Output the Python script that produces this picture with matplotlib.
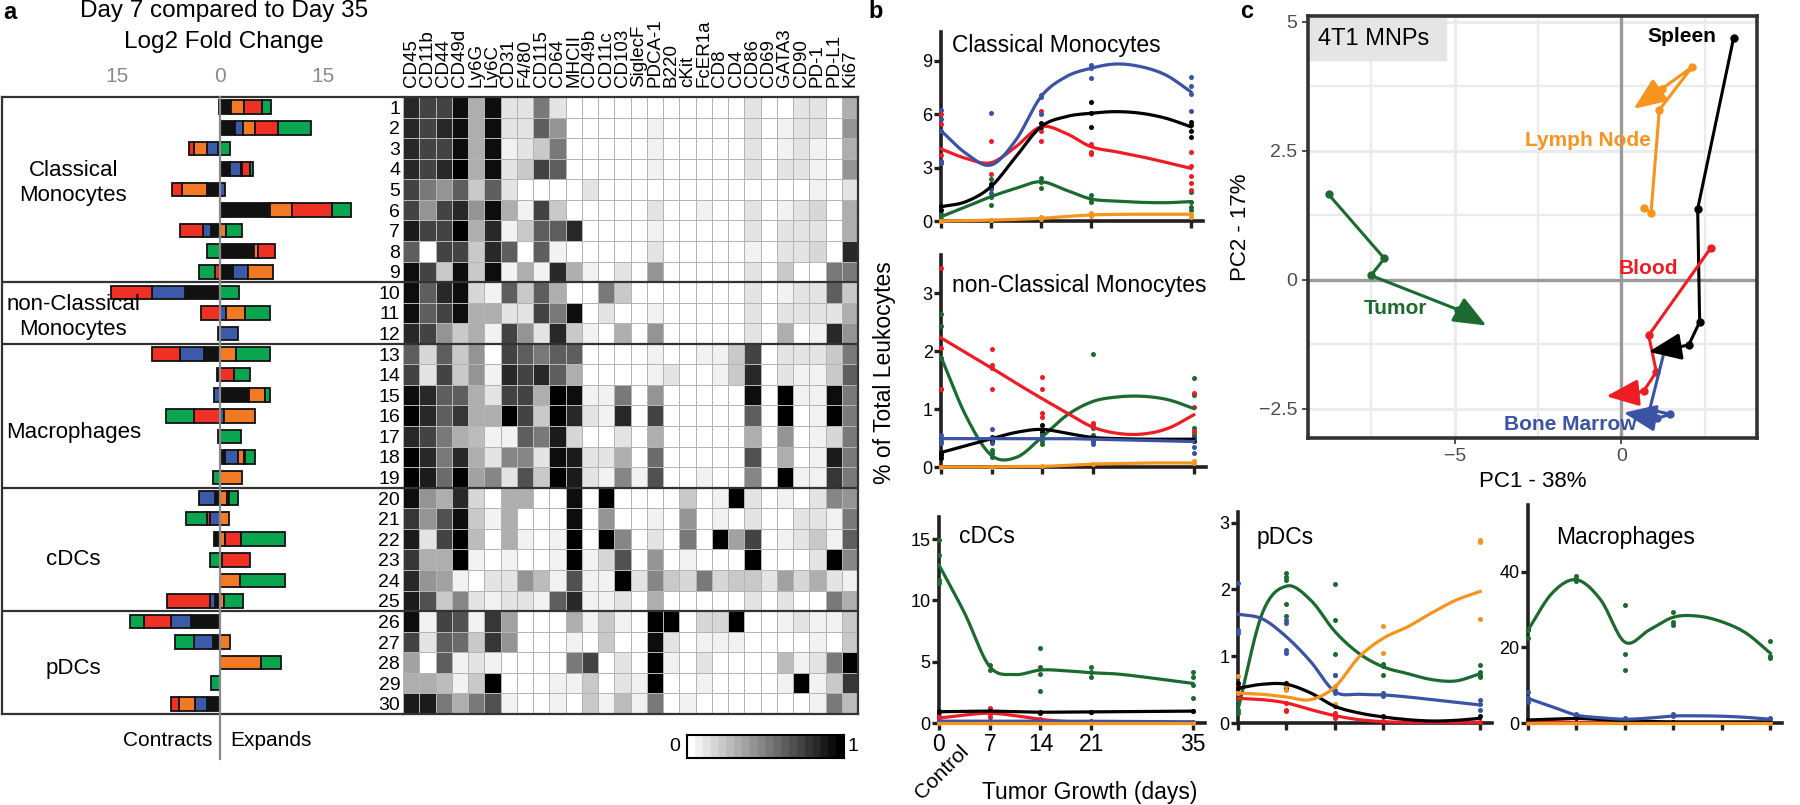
import numpy as np
import matplotlib
matplotlib.use('Agg')
import matplotlib.pyplot as plt
from matplotlib.colors import ListedColormap
from matplotlib.lines import Line2D
from matplotlib.patches import Rectangle

plt.rcParams['font.family'] = ['Liberation Sans', 'DejaVu Sans']

W, H = 1800, 805

# ---------------- panel a data ----------------
row_ids = list(range(1, 31))
group_names = ['Classical\nMonocytes', 'non-Classical\nMonocytes', 'Macrophages', 'cDCs', 'pDCs']
group_rows = [4.7, 11.2, 16.8, 23.0, 28.3]
group_breaks = [9.5, 12.5, 19.5, 25.5]
tissues = ['Spleen', 'Bone Marrow', 'Lymph Node', 'Blood', 'Tumor']

fc_spleen = [1.6, 2.2, -0.25, 1.5, -1.94, 6.9, -1.35, 4.9, 1.85, -5.1, 0, -0.25, -2.3, -0.4, 4.2,
             0, -0.25, 0.75, 0, -0.7, 0, -0.8, 0, 0, -0.7, -4.2, -0.95, 0, 0, -1.85]
fc_marrow = [-0.2, 1.1, -1.6, 1.55, 0.7, 0.35, -1.15, 0, 2.2, -4.7, 0.8, 2.6, -3.5, 0, -0.9,
             0.55, 0, 1.85, 0, -2.4, -1.45, 0, 0, 0, -0.7, -2.95, -2.8, 0, 0, -1.8]
fc_lymph = [1.84, 1.84, -1.94, 0.15, -3.6, 3.15, 0.9, 0.6, 3.7, 0, 2.9, 0, 2.3, 0, 2.4,
            4.5, 0, 0.85, 3.2, 1.0, 1.35, 0.75, 0.3, 2.9, 0.65, 0, 1.4, 6.0, 0, -2.3]
fc_blood = [2.66, 3.24, -0.73, 1.15, -1.45, 5.8, -3.3, 2.5, -0.7, -5.95, -2.8, 0, -4.0, 2.1, 0,
            -3.8, 0, 0.2, 0, 0.3, -0.4, 2.3, 4.0, 0, -6.3, -3.9, 0, 0, 0, -1.15]
fc_tumor = [1.3, 4.84, 1.45, 0.5, 0, 2.8, 2.3, -1.84, -2.3, 2.8, 3.5, 0, 4.9, 2.3, 0.65,
            -4.1, 3.0, 1.45, -1.05, 1.35, -3.1, 6.4, -1.45, 6.6, 2.65, -2.0, -2.75, 2.9, -1.35, 0]

markers = ['CD45', 'CD11b', 'CD44', 'CD49d', 'Ly6G', 'Ly6C', 'CD31', 'F4/80', 'CD115', 'CD64',
           'MHCII', 'CD49b', 'CD11c', 'CD103', 'SiglecF', 'PDCA-1', 'B220', 'cKit', 'FcER1a',
           'CD8', 'CD4', 'CD86', 'CD69', 'GATA3', 'CD90', 'PD-1', 'PD-L1', 'Ki67']

# scaled expression, 0 (white) .. 10 (black)
expression = [
    [8, 7, 7, 9, 3, 9, 1, 1, 5, 1, 0, 0, 0, 0, 0, 0, 0, 0, 0, 0, 0, 1, 0, 0, 1, 1, 0, 3],
    [8, 7, 8, 9, 3, 9, 1, 1, 6, 4, 0, 0, 0, 0, 0, 0.5, 0, 0, 0, 0, 0, 1, 0, 0.5, 1, 1, 0, 4],
    [8, 7, 7, 9, 3, 9, 0.5, 1, 2, 5, 0, 0, 0, 0, 0, 0.5, 0, 0, 0, 0, 0, 1, 0, 0.5, 1, 0.5, 0, 3],
    [8, 7, 8, 9.5, 3, 9, 1, 2, 7, 6, 0, 0, 0, 0, 0, 0.5, 0, 0, 0, 0, 0, 1, 0, 1, 1, 0.5, 0, 4],
    [7, 5, 4, 6, 2, 6, 1, 0, 0, 0, 0, 1, 0, 0, 0, 0, 0, 0, 0, 0, 0, 0, 0, 0, 0, 0.5, 0, 1],
    [7, 4, 7, 8, 4, 9, 3, 0.5, 7, 2, 0, 0, 0, 0, 0, 1, 0, 0, 0.5, 0, 0, 1, 0, 0.5, 1, 1.5, 0, 3],
    [8.5, 7, 7, 9.5, 3, 8, 0.5, 2, 6, 6, 8, 0, 0, 0, 0, 0.5, 0, 0, 0, 0, 0, 1, 0, 1, 1, 1, 0, 3],
    [6, 0, 7, 7, 2, 8, 6, 0, 6, 0.5, 0, 0, 0, 0, 0, 1, 0, 0, 0, 0, 0, 0.5, 0, 1, 1, 1.5, 0, 8],
    [9, 7, 2, 9, 2, 9, 0.5, 3, 0.5, 8, 3, 0.5, 0, 1, 0, 4, 0, 0, 0, 0, 0, 1, 0, 2, 0, 0, 5, 5],
    [9, 6, 8, 9, 1.5, 0.5, 6, 2, 6, 3, 0, 0, 5, 2, 0, 0, 0, 0, 0, 0, 0, 1, 0, 0.5, 1, 1, 6, 2],
    [9, 6, 7, 9, 3, 3, 1, 1, 7, 5, 9, 0, 1, 0, 0, 0.5, 0, 0, 0, 0, 0, 1, 0, 1, 1, 1, 1, 3],
    [8, 7, 4, 2, 3, 0.5, 7, 4, 1, 8, 2, 0.5, 0, 3, 0, 4, 0, 0, 0, 0, 0, 1, 0, 3, 0, 0.5, 8, 4],
    [6, 1.5, 6, 2, 4, 0, 7, 6, 5, 6, 6, 0, 0, 0, 0, 0.5, 0, 0, 0.5, 0.5, 2, 7, 0, 1, 1, 1, 2, 5],
    [7, 1, 7, 2, 4, 0.5, 8, 7, 8, 6, 3, 0, 0, 0, 0, 0.5, 1, 0, 0, 0.5, 2, 8, 0, 1, 0.5, 0.5, 2, 6],
    [9, 8, 6, 6, 3, 1, 7, 7, 3, 10, 9, 0.5, 0.5, 5, 0, 4, 0, 0, 0, 0, 0, 9, 0, 10, 0.5, 0.5, 9, 5],
    [9.5, 8, 6, 7.5, 3, 3, 10, 7, 2, 10, 8, 1, 0.5, 8, 0, 7, 0, 0, 0, 0, 0, 6, 0, 10, 0, 0.5, 10, 5],
    [8, 7, 5, 3, 2.5, 0.5, 0.5, 6, 5, 8.5, 1.5, 0, 0, 1, 0, 3, 0, 0, 0, 0, 0, 3, 0, 4, 0, 0.5, 1.5, 5],
    [9.5, 8, 5, 8, 3, 1, 4.5, 4.5, 1, 9, 8.5, 1, 1, 3, 0, 5.5, 0, 0, 0, 0, 0, 6.5, 0, 3, 0, 0.5, 8.5, 5],
    [9.5, 8.5, 5.5, 9.5, 3.5, 4.5, 1, 6.5, 2, 10, 8.5, 1, 0.5, 4.5, 0.5, 6.5, 0, 0, 0.5, 0, 0, 4.5, 0, 10, 0.5, 0.5, 7.5, 5],
    [9, 4, 3, 8, 1.5, 0, 3, 3, 0, 0, 9, 0, 9.5, 0, 0, 0, 0, 2, 0, 0.5, 9.5, 1, 0, 0.5, 0, 1, 4.5, 4],
    [7.5, 4, 6.5, 9, 2, 0.5, 3, 0, 0, 0, 9, 0, 4, 0, 0, 0.5, 0, 4, 0, 0.5, 0, 1, 0, 0, 1, 1, 0.5, 5],
    [8.5, 1, 7, 10, 2.5, 0, 3, 0.5, 0, 0.5, 10, 0, 10, 4.5, 0, 1, 0, 5, 0, 10, 3.5, 7, 0, 0.5, 1, 2, 0.5, 6],
    [7.5, 3, 3, 9.5, 0.5, 0, 0.5, 0, 0, 0.5, 9.5, 0.5, 1.5, 6.5, 0, 4, 0, 0.5, 0, 0, 0, 10, 0, 0, 0, 1, 9.5, 4.5],
    [8, 4, 3.5, 0.5, 0, 1, 1, 4, 2.5, 0.5, 6.5, 0.5, 0.5, 10, 1, 4.5, 2, 1.5, 5, 1.5, 2, 2, 1, 3.5, 1.5, 3, 1, 0.5],
    [8.5, 6.5, 2, 4.5, 1, 0.5, 1, 1, 0.5, 6, 8, 0.5, 0.5, 1, 0, 3, 0, 0, 0, 0, 0, 1, 0, 1, 0, 0, 5, 3],
    [9, 0.5, 7, 6.5, 0.5, 7.5, 3.5, 0, 0, 0, 3, 0.5, 2, 0.5, 0, 9.5, 10, 0, 1.5, 1.5, 10, 0, 0, 0.5, 1, 0.5, 0.5, 2],
    [7, 1, 6, 5.5, 2, 7.5, 4, 0, 0, 0, 0.5, 0, 2, 0, 0, 9, 1, 0, 0.5, 0.5, 0.5, 0, 0, 0, 0, 0.5, 0, 2],
    [3.5, 0, 6, 0.5, 1, 0.5, 0, 0, 0, 0, 5, 7, 0, 1, 0, 9.5, 0.5, 0, 1, 0, 0, 0, 0, 2.5, 0.5, 1, 5, 10],
    [3, 3, 2.5, 0.5, 2, 10, 0, 0, 0, 0.5, 0.5, 2, 0, 1, 0.5, 10, 0, 0, 0.5, 0, 0, 0, 0, 0.5, 10, 0.5, 2, 7.5],
    [8.5, 8.5, 5, 3, 5, 6.5, 0.5, 0, 0, 0.5, 0, 2, 0.5, 2.5, 0.5, 5, 0, 0.5, 0, 0, 0, 0, 0, 0, 0, 0.5, 5, 2.5],
]

# ---------------- panel b data ----------------
sample_days = [0, 7, 14, 21, 35]
curve_days = [0, 3.5, 7, 10.5, 14, 17.5, 21, 24.5, 28, 31.5, 35]

cm_curves = {
    'Tumor': [0.24, 0.80, 1.37, 1.84, 2.21, 1.74, 1.24, 1.12, 1.05, 1.03, 1.09],
    'Blood': [4.05, 3.52, 3.28, 4.18, 5.30, 4.93, 4.18, 3.90, 3.62, 3.30, 2.96],
    'Spleen': [0.80, 1.09, 1.93, 3.62, 5.30, 5.87, 6.06, 6.15, 6.06, 5.78, 5.30],
    'Bone Marrow': [5.08, 3.80, 3.15, 4.56, 6.99, 8.11, 8.59, 8.83, 8.68, 8.21, 7.27],
    'Lymph Node': [0.0, 0.02, 0.05, 0.09, 0.15, 0.25, 0.34, 0.37, 0.38, 0.38, 0.38],
}
cm_dots = {
    'Tumor': [[0.4, 0.13], [2.38, 2.0, 1.37, 0.9], [2.43, 2.19, 1.87], [1.46, 1.24, 1.09], [1.61, 1.05, 0.8, 0.6]],
    'Blood': [[5.99, 5.44, 3.71, 3.24], [4.48, 3.28, 2.66], [6.19, 5.07, 4.51], [4.33, 3.86, 3.77], [3.86, 3.07, 2.51, 2.14, 1.76]],
    'Spleen': [[0.87, 0.6], [1.93, 2.1], [5.3, 5.5], [6.71, 6.06, 5.3], [5.58, 5.39, 5.06, 4.74]],
    'Bone Marrow': [[6.25, 5.72, 5.08, 3.37, 3.28], [6.1, 3.28, 1.78, 1.6], [7.07, 6.98, 5.99], [8.77, 8.6, 8.02], [8.12, 7.59, 7.12, 6.19]],
    'Lymph Node': [[0.0, 0.02], [0.05, 0.08], [0.1, 0.2], [0.3, 0.45], [0.25, 0.4]],
}

nc_curves = {
    'Tumor': [1.90, 0.87, 0.20, 0.17, 0.52, 0.90, 1.13, 1.21, 1.22, 1.16, 1.01],
    'Blood': [2.23, 1.97, 1.71, 1.44, 1.18, 0.93, 0.69, 0.58, 0.57, 0.67, 0.90],
    'Spleen': [0.25, 0.37, 0.49, 0.60, 0.65, 0.58, 0.51, 0.49, 0.48, 0.48, 0.48],
    'Bone Marrow': [0.49, 0.49, 0.49, 0.49, 0.49, 0.49, 0.48, 0.47, 0.46, 0.45, 0.44],
    'Lymph Node': [0.0, 0.0, 0.0, 0.01, 0.01, 0.03, 0.05, 0.06, 0.07, 0.07, 0.07],
}
nc_dots = {
    'Tumor': [[2.65, 2.43, 1.88, 1.34], [0.29, 0.24, 0.18], [0.65, 0.55, 0.45, 0.4], [1.95, 0.74, 0.67, 0.55], [1.53, 1.25, 0.68, 0.6, 0.55]],
    'Blood': [[3.44, 2.05, 1.34], [2.03, 1.76, 1.71, 1.34], [1.56, 1.34, 0.93, 0.87], [0.76, 0.69], [1.28, 1.04, 0.62]],
    'Spleen': [[0.25, 0.2, 0.15], [0.52, 0.45], [0.72, 0.6], [0.5, 0.45], [0.5, 0.45]],
    'Bone Marrow': [[0.55, 0.5, 0.45, 0.42], [0.66, 0.5, 0.42], [0.55, 0.5], [0.5, 0.45, 0.4], [0.5, 0.35, 0.25]],
    'Lymph Node': [[0.0], [0.0], [0.01], [0.05], [0.07, 0.1]],
}

cd_curves = {
    'Tumor': [12.88, 9.0, 4.6, 3.95, 4.32, 4.26, 4.10, 4.0, 3.77, 3.5, 3.23],
    'Blood': [0.4, 0.65, 0.8, 0.6, 0.3, 0.12, 0.05, 0.02, 0.01, 0.0, 0.0],
    'Spleen': [0.92, 0.95, 0.97, 0.92, 0.88, 0.89, 0.9, 0.92, 0.94, 0.96, 0.97],
    'Bone Marrow': [0.15, 0.15, 0.15, 0.15, 0.15, 0.15, 0.14, 0.13, 0.12, 0.11, 0.1],
    'Lymph Node': [0.02, 0.02, 0.02, 0.02, 0.02, 0.02, 0.02, 0.02, 0.02, 0.02, 0.02],
}
cd_dots = {
    'Tumor': [[14.9, 13.7, 11.65, 11.4], [4.7, 4.35], [6.14, 4.59, 4.0, 2.6], [4.59, 4.2, 3.78], [4.16, 3.78, 3.08, 2.0]],
    'Blood': [[0.6, 0.3], [1.2, 0.7, 0.5], [0.3], [0.05], [0.0]],
    'Spleen': [[1.0, 0.9], [1.0, 0.95], [0.9, 0.85], [0.9, 0.88], [1.0, 0.95]],
    'Bone Marrow': [[0.2, 0.1], [0.2, 0.15], [0.15], [0.15], [0.1]],
    'Lymph Node': [[0.0], [0.0], [0.0], [0.0], [0.0]],
}

pd_curves = {
    'Tumor': [0.2, 1.64, 2.05, 1.84, 1.37, 1.04, 0.84, 0.74, 0.65, 0.63, 0.74],
    'Blood': [0.37, 0.35, 0.30, 0.20, 0.11, 0.05, 0.02, 0.01, 0.01, 0.01, 0.01],
    'Spleen': [0.52, 0.58, 0.58, 0.45, 0.25, 0.15, 0.09, 0.05, 0.03, 0.04, 0.07],
    'Bone Marrow': [1.63, 1.56, 1.29, 0.92, 0.47, 0.43, 0.42, 0.39, 0.35, 0.31, 0.27],
    'Lymph Node': [0.45, 0.43, 0.39, 0.35, 0.54, 0.99, 1.27, 1.44, 1.65, 1.84, 1.97],
}
pd_dots = {
    'Tumor': [[0.45, 0.35, 0.2, 0.15], [2.24, 2.19, 2.14, 1.78, 1.6], [2.08, 1.55, 1.03, 0.72], [0.88, 0.85, 0.72], [0.87, 0.77, 0.72, 0.69]],
    'Blood': [[0.55, 0.45], [0.3, 0.2, 0.18], [0.15, 0.08], [0.03], [0.02]],
    'Spleen': [[0.6, 0.52], [0.6, 0.52], [0.25], [0.1], [0.1]],
    'Bone Marrow': [[2.1, 1.4, 1.35], [1.55, 1.5, 1.1, 1.05], [0.72, 0.5, 0.45], [0.45, 0.4], [0.35, 0.28, 0.2]],
    'Lymph Node': [[0.7, 0.45], [0.55, 0.5], [0.55, 0.28], [1.45, 1.05], [2.74, 2.71, 1.56]],
}

mac_curves = {
    'Tumor': [24.6, 34.4, 37.9, 32.6, 21.4, 24.6, 28.0, 28.3, 26.8, 23.8, 18.5],
    'Blood': [0.5, 0.3, 0.1, 0.05, 0.0, 0.0, 0.0, 0.0, 0.0, 0.0, 0.0],
    'Spleen': [0.8, 1.0, 1.2, 0.9, 0.6, 0.4, 0.3, 0.3, 0.3, 0.3, 0.3],
    'Bone Marrow': [6.5, 4.3, 2.1, 1.4, 1.0, 1.3, 1.85, 1.9, 1.8, 1.5, 1.0],
    'Lymph Node': [0.1, 0.1, 0.1, 0.1, 0.1, 0.1, 0.1, 0.1, 0.1, 0.1, 0.1],
}
mac_dots = {
    'Tumor': [[25, 24.5, 22.5], [39, 38, 37.5], [31.1, 18.3, 14.0], [29.4, 26.8, 26.0], [21.6, 17.7, 17.1]],
    'Blood': [[0.5], [0.1], [0.0], [0.0], [0.0]],
    'Spleen': [[0.8], [1.2], [0.6], [0.3], [0.3]],
    'Bone Marrow': [[8.3, 6.5, 5.6], [2.5, 1.8], [1.2], [2.4, 1.8], [1.2, 0.8]],
    'Lymph Node': [[0.1], [0.1], [0.1], [0.1], [0.1]],
}

# ---------------- panel c data ----------------
pca_x = {
    'Spleen': [3.37, 2.29, 2.35, 2.02, 1.67],
    'Lymph Node': [0.69, 0.89, 1.14, 2.12, 1.22],
    'Tumor': [-8.78, -7.11, -7.51, -4.91],
    'Blood': [2.69, 0.82, 1.05, 0.67, 0.42],
    'Bone Marrow': [1.32, 0.85, 1.47, 1.07],
}
pca_y = {
    'Spleen': [4.69, 1.37, -0.82, -1.27, -1.31],
    'Lymph Node': [1.38, 1.29, 3.29, 4.12, 3.70],
    'Tumor': [1.65, 0.41, 0.08, -0.58],
    'Blood': [0.62, -1.08, -1.79, -2.16, -2.20],
    'Bone Marrow': [-1.31, -2.52, -2.61, -2.69],
}
pca_tip = {
    'Spleen': (0.82, -1.40),
    'Lymph Node': (0.37, 3.31),
    'Tumor': (-4.05, -0.89),
    'Blood': (-0.45, -2.26),
    'Bone Marrow': (0.07, -2.58),
}
pca_label_pos = {
    'Spleen': (1.82, 4.71),
    'Lymph Node': (-0.99, 2.70),
    'Tumor': (-6.78, -0.56),
    'Blood': (0.8, 0.21),
    'Bone Marrow': (-1.53, -2.80),
}

bar_colors = {'Spleen': '#111111', 'Bone Marrow': '#3d5aa8', 'Lymph Node': '#f37a24',
              'Blood': '#ee3124', 'Tumor': '#0aa64f'}
line_colors = {'Spleen': '#000000', 'Bone Marrow': '#3a53a4', 'Lymph Node': '#f7941d',
               'Blood': '#ee1c25', 'Tumor': '#1b6a30'}
AX = '#231f20'


def fig_rect(x0, y0, x1, y1):
    return [x0 / W, 1 - y1 / H, (x1 - x0) / W, (y1 - y0) / H]


def smooth(xs, ys, n=16):
    # Catmull-Rom rendering through the read curve values
    x = np.asarray(xs, float)
    y = np.asarray(ys, float)
    xp = np.concatenate([[2 * x[0] - x[1]], x, [2 * x[-1] - x[-2]]])
    yp = np.concatenate([[2 * y[0] - y[1]], y, [2 * y[-1] - y[-2]]])
    t = np.linspace(0, 1, n, endpoint=False)
    ox, oy = [], []
    for i in range(1, len(xp) - 2):
        for arr, out in ((xp, ox), (yp, oy)):
            p0, p1, p2, p3 = arr[i - 1:i + 3]
            out.append(0.5 * (2 * p1 + (-p0 + p2) * t + (2 * p0 - 5 * p1 + 4 * p2 - p3) * t ** 2
                              + (-p0 + 3 * p1 - 3 * p2 + p3) * t ** 3))
    return np.concatenate(ox + [[x[-1]]]), np.concatenate(oy + [[y[-1]]])


fig = plt.figure(figsize=(18, 8.05), dpi=100)

# ================= panel a: bars =================
axb = fig.add_axes(fig_rect(2, 97, 403, 714))
for i, r in enumerate(row_ids):
    pos, neg = 0.0, 0.0
    for name, vals in zip(tissues, [fc_spleen, fc_marrow, fc_lymph, fc_blood, fc_tumor]):
        v = vals[i]
        if v > 0:
            axb.barh(r, v, left=pos, height=0.66, color=bar_colors[name], edgecolor='#111111', linewidth=1.3, zorder=3)
            pos += v
        elif v < 0:
            axb.barh(r, v, left=neg, height=0.66, color=bar_colors[name], edgecolor='#111111', linewidth=1.3, zorder=3)
            neg += v
axb.set_xlim(-31.64, 26.56)
axb.set_ylim(30.5, 0.5)
axb.xaxis.tick_top()
axb.set_xticks([-15, 0, 15])
axb.set_xticklabels(['15', '0', '15'])
axb.tick_params(axis='x', length=0, pad=8, labelsize=15, labelcolor='#8a8a8a')
axb.set_yticks([])
for s in ['right']:
    axb.spines[s].set_visible(False)
for s in ['left', 'top', 'bottom']:
    axb.spines[s].set_linewidth(1.6)
    axb.spines[s].set_color('#333333')
for b in group_breaks:
    axb.axhline(b, color='#333333', lw=1.6, zorder=4)
axb.plot([0, 0], [0.5, 32.7], color='#8a8a8a', lw=1.6, zorder=5, clip_on=False)
for name, r in zip(group_names, group_rows):
    axb.text(-21.3, r, name, ha='center', va='center', fontsize=16, linespacing=1.25)

fig.text(224 / W, 1 - 17 / H, 'Day 7 compared to Day 35', ha='center', va='baseline', fontsize=17.5)
fig.text(224 / W, 1 - 48 / H, 'Log2 Fold Change', ha='center', va='baseline', fontsize=17.5)
fig.text(212 / W, 1 - 740 / H, 'Contracts', ha='right', va='center', fontsize=15)
fig.text(230 / W, 1 - 740 / H, 'Expands', ha='left', va='center', fontsize=15)

# ================= panel a: heatmap =================
axh = fig.add_axes(fig_rect(403, 97, 858, 714))
cmap = ListedColormap([str(g) for g in np.linspace(1, 0, 20)])
data = np.array(expression) / 10.0
axh.pcolormesh(np.arange(len(markers) + 1), np.arange(len(row_ids) + 1) + 0.5, data,
               cmap=cmap, vmin=0, vmax=1, edgecolors='#b4b4b4', linewidth=0.7)
axh.set_xlim(0, len(markers))
axh.set_ylim(30.5, 0.5)
axh.xaxis.tick_top()
axh.set_xticks(np.arange(len(markers)) + 0.5)
axh.set_xticklabels(markers, rotation=90, fontsize=13.5)
axh.set_yticks(row_ids)
axh.set_yticklabels([str(r) for r in row_ids], fontsize=14)
axh.tick_params(axis='x', length=0, pad=7)
axh.tick_params(axis='y', length=0, pad=2)
axh.spines['left'].set_visible(False)
for s in ['right', 'top', 'bottom']:
    axh.spines[s].set_linewidth(1.6)
    axh.spines[s].set_color('#333333')
for b in group_breaks:
    axh.axhline(b, color='#333333', lw=1.6)

cax = fig.add_axes(fig_rect(687, 735, 844, 758))
cax.imshow(np.linspace(0, 1, 200)[None, :], cmap=cmap, aspect='auto', extent=[0, 1, 0, 1])
cax.set_xticks([])
cax.set_yticks([])
for s in cax.spines.values():
    s.set_linewidth(1.5)
fig.text(675 / W, 1 - 746 / H, '0', ha='center', va='center', fontsize=14)
fig.text(853 / W, 1 - 746 / H, '1', ha='center', va='center', fontsize=14)

# ================= panel b =================
draw_order = ['Tumor', 'Blood', 'Spleen', 'Bone Marrow', 'Lymph Node']


def time_panel(rect, curves, dots, ylim, yticks, xticks, title, tpos, tha='left', xlabels=False):
    ax = fig.add_axes(fig_rect(*rect))
    for name in draw_order:
        c = line_colors[name]
        for d, vals in zip(sample_days, dots[name]):
            ax.scatter([d] * len(vals), vals, s=13, color=c, zorder=3, clip_on=False, linewidths=0)
        sx, sy = smooth(curve_days, curves[name])
        ax.plot(sx, sy, color=c, lw=2.3, zorder=4, clip_on=False)
    ax.set_xlim(0, 36.7)
    ax.set_ylim(*ylim)
    ax.set_yticks(yticks)
    ax.set_xticks(xticks)
    if not xlabels:
        ax.set_xticklabels([])
    for s in ['top', 'right']:
        ax.spines[s].set_visible(False)
    for s in ['left', 'bottom']:
        ax.spines[s].set_linewidth(2.6)
        ax.spines[s].set_color(AX)
    ax.tick_params(axis='both', direction='out', width=2.4, length=5, color=AX)
    ax.tick_params(axis='y', labelsize=13, pad=1)
    ax.tick_params(axis='x', labelsize=16.5, pad=2)
    ax.text(tpos[0], tpos[1], title, transform=ax.transAxes, ha=tha, va='center', fontsize=16.5)
    return ax


time_panel((941, 32, 1203, 221), cm_curves, cm_dots, (0, 10.63), [0, 3, 6, 9], sample_days,
           'Classical Monocytes', (0.042, 0.931))
time_panel((941, 255, 1206, 467), nc_curves, nc_dots, (0, 3.66), [0, 1, 2, 3], sample_days,
           'non-Classical Monocytes', (0.041, 0.858))
time_panel((939, 517, 1205, 723), cd_curves, cd_dots, (0, 16.8), [0, 5, 10, 15], sample_days,
           'cDCs', (0.076, 0.903), xlabels=True)
time_panel((1238, 512, 1492, 723), pd_curves, pd_dots, (0, 3.16), [0, 1, 2, 3], sample_days,
           'pDCs', (0.075, 0.88))
time_panel((1528, 505, 1782, 723), mac_curves, mac_dots, (0, 57.7), [0, 20, 40], [0, 7, 14, 21, 28, 35],
           'Macrophages', (0.383, 0.853), tha='center')

fig.text(942 / W, 1 - 772 / H, 'Control', rotation=45, ha='center', va='center', fontsize=15)
fig.text(1090 / W, 1 - 792 / H, 'Tumor Growth (days)', ha='center', va='center', fontsize=16.5)
fig.text(885 / W, 1 - 373 / H, '% of Total Leukocytes', rotation=90, ha='center', va='center', fontsize=16.5)

# ================= panel c: PCA =================
axp = fig.add_axes(fig_rect(1308, 16, 1757, 438))
axp.set_xlim(-9.4, 4.07)
axp.set_ylim(-3.07, 5.11)
axp.set_xticks([-5, 0])
axp.set_xticklabels(['\u22125', '0'])
axp.set_yticks([-2.5, 0, 2.5, 5])
axp.set_yticklabels(['\u22122.5', '0', '2.5', '5'])
axp.set_xticks([-7.5, -2.5, 2.5], minor=True)
axp.set_yticks([-1.25, 1.25, 3.75], minor=True)
axp.grid(which='major', color='#ebebeb', lw=2.2)
axp.grid(which='minor', color='#ebebeb', lw=1.6)
axp.tick_params(which='minor', length=0)
axp.tick_params(which='major', length=4, width=1.2, color='#333333', labelcolor='#4d4d4d', labelsize=14)
axp.set_axisbelow(True)
axp.axhline(0, color='#9a9a9a', lw=2.4, zorder=1)
axp.axvline(0, color='#9a9a9a', lw=2.4, zorder=1)
for s in axp.spines.values():
    s.set_linewidth(2.6)
    s.set_color('#333333')
axp.add_patch(Rectangle((0.005, 0.895), 0.302, 0.1, transform=axp.transAxes, color='#e5e5e5', zorder=2))
axp.text(0.022, 0.945, '4T1 MNPs', transform=axp.transAxes, ha='left', va='center', fontsize=17, zorder=3)

for name in ['Tumor', 'Lymph Node', 'Spleen', 'Blood', 'Bone Marrow']:
    c = line_colors[name]
    xs, ys = pca_x[name], pca_y[name]
    axp.plot(xs, ys, color=c, lw=2.2, marker='o', markersize=5, zorder=4)
    axp.annotate('', xy=pca_tip[name], xytext=(xs[-1], ys[-1]),
                 arrowprops=dict(arrowstyle='-|>,head_length=0.8,head_width=0.33', color=c, lw=2.2,
                                 mutation_scale=25, shrinkA=0, shrinkB=0), zorder=5)
    lx, ly = pca_label_pos[name]
    axp.text(lx, ly, name, color=c, fontsize=15, fontweight='bold', ha='center', va='center', zorder=6)

axp.set_xlabel('PC1 - 38%', fontsize=16, labelpad=4)
axp.set_ylabel('PC2 - 17%', fontsize=16, labelpad=6)

# panel letters
fig.text(3 / W, 1 - 19 / H, 'a', fontsize=17, fontweight='bold', va='baseline')
fig.text(868 / W, 1 - 18 / H, 'b', fontsize=17, fontweight='bold', va='baseline')
fig.text(1240 / W, 1 - 18 / H, 'c', fontsize=17, fontweight='bold', va='baseline')

fig.savefig('out.png', dpi=100)
